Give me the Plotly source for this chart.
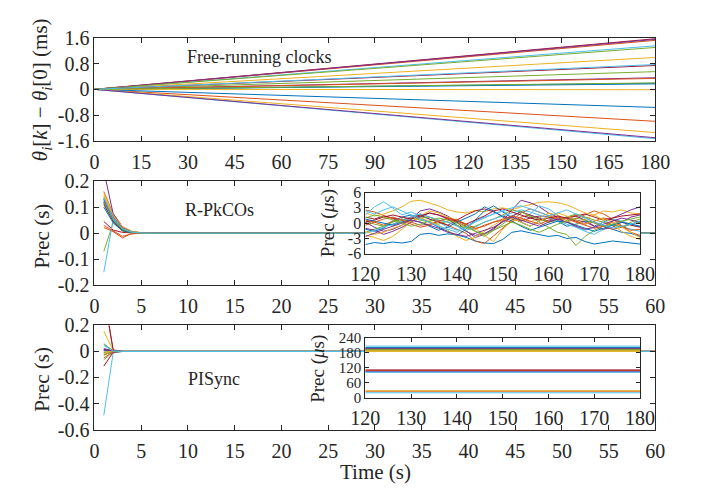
import plotly.graph_objects as go

# ---------------- data ----------------
# MATLAB default colour order, cycled over the 20 nodes
palette = ["#0072BD", "#D95319", "#EDB120", "#7E2F8E", "#77AC30", "#4DBEEE", "#A2142F"]
n_nodes = 20

# Free-running clocks: offset theta_i[k] - theta_i[0] (ms) at t = 0 and t = 180 s
free_t = [0, 180]
free_end_ms = [0.19, -0.99, 0.99, 0.36, 0.55, 1.35, 1.57, -0.56, 1.52, -1.34,
               1.55, 1.30, -1.53, 0.74, 0.17, 0.34, -0.01, -1.50, 0.20, 0.77]

# R-PkCOs precision (s), transient t = 1..6 s then settled until 60 s
rpk_t = [1, 2, 3, 4, 5, 6, 60]
rpk_prec = [
    [0.125, 0.055, 0.018, 0.005, 0.001, 0, 0],
    [0.160, 0.075, 0.025, 0.007, 0.002, 0, 0],
    [0.155, 0.070, 0.022, 0.006, 0.002, 0, 0],
    [0.240, 0.075, 0.022, 0.006, 0.001, 0, 0],
    [0.140, 0.060, 0.020, 0.005, 0.001, 0, 0],
    [0.130, 0.058, 0.020, 0.006, 0.001, 0, 0],
    [0.045, 0.012, 0.003, 0.001, 0.000, 0, 0],
    [0.115, 0.050, 0.015, 0.004, 0.001, 0, 0],
    [0.022, 0.006, -0.018, 0.000, 0.000, 0, 0],
    [0.135, 0.065, 0.020, 0.005, 0.001, 0, 0],
    [0.120, 0.048, 0.012, 0.003, 0.000, 0, 0],
    [-0.070, 0.040, 0.008, 0.002, 0.000, 0, 0],
    [-0.150, 0.052, 0.015, 0.004, 0.001, 0, 0],
    [0.110, 0.045, 0.010, 0.002, 0.000, 0, 0],
    [0.100, 0.040, 0.010, 0.002, 0.000, 0, 0],
    [0.030, 0.010, -0.012, -0.003, 0.000, 0, 0],
    [0.145, 0.068, 0.024, 0.006, 0.001, 0, 0],
    [0.130, 0.062, 0.020, 0.004, 0.001, 0, 0],
    [0.118, 0.050, 0.014, 0.003, 0.000, 0, 0],
    [0.135, 0.060, 0.018, 0.004, 0.001, 0, 0],
]

# R-PkCOs steady-state precision (us), sampled every 2 s from 120 to 180 s
rpk_zoom_t = list(range(120, 181, 2))
rpk_zoom_us = [
    [-4.2, -3.8, -4.0, -3.7, -3.9, -3.6, -2.2, -2.0, -2.4, -2.1, -2.3, -2.8, -3.5, -3.9, -4.0, -3.2, -1.8, -1.5, -1.9, -2.2, -2.6, -2.4, -3.0, -2.8, -3.6, -4.1, -3.8, -3.5, -3.7, -3.9, -4.1],
    [2.6, 2.2, 1.5, 0.8, 0.2, 1.0, 1.8, 1.2, 0.4, -0.5, -1.2, -2.0, -3.5, -4.0, -2.5, -1.0, 0.5, 2.0, 2.8, 2.2, 1.5, 0.8, 0.2, 0.9, 1.6, 2.4, 1.8, 0.8, -0.5, -1.8, -2.4],
    [2.0, 1.4, 1.8, 2.4, 3.2, 4.3, 4.5, 4.0, 3.4, 2.6, 2.2, 2.0, 2.5, 2.2, 2.8, 3.0, 2.6, 3.2, 3.6, 4.1, 4.2, 4.0, 3.6, 2.8, 2.0, 1.6, 2.4, 2.2, 2.6, 2.0, 1.8],
    [0.2, -0.8, -1.6, -1.2, -0.4, 0.8, 2.4, 2.8, 2.2, 1.4, 0.2, -1.5, -2.8, -2.2, -1.0, 0.4, 2.6, 4.5, 4.0, 3.2, 2.0, 1.2, 1.0, 1.4, 0.6, -0.6, 0.2, 1.0, 1.8, 2.6, 3.2],
    [-1.8, -1.2, -0.6, -0.2, 0.5, 1.0, 0.6, 0.2, -0.2, 0.4, 0.8, -0.5, -1.6, -2.6, -1.4, -0.2, 1.2, 2.4, 1.2, 0.2, -0.8, -1.8, -2.2, -4.4, -2.6, -1.4, -0.6, -0.2, -0.8, 0.2, 0.8],
    [1.6, 3.2, 4.2, 3.0, 1.6, 2.2, 1.4, 0.8, 0.2, -0.8, -1.4, -0.6, 0.4, 1.2, 1.8, 2.4, 1.2, 0.4, 1.8, 3.4, 2.8, 1.6, 0.4, -0.8, -1.6, -2.2, -1.2, -0.2, -0.6, -1.2, -1.6],
    [1.2, 0.8, 1.4, 1.0, 0.6, 1.2, 1.6, 0.8, 0.2, -0.4, 0.6, 1.6, 2.4, 2.8, 2.2, 1.4, 0.8, 0.4, 1.0, 1.4, 1.2, 0.6, 1.0, 1.4, 1.8, 1.2, 0.6, 1.0, 1.4, 1.6, 1.8],
    [-1.2, -1.6, -1.0, 0.4, 1.2, 1.6, 1.0, 0.2, -0.8, -1.6, -2.4, -1.2, 0.6, 2.4, 3.4, 2.2, 1.0, 0.2, -0.6, 0.4, 1.2, 0.4, -0.6, -0.2, 0.4, 0.2, -0.6, -1.2, -1.8, -2.0, -2.6],
    [0.6, 0.2, -0.4, 0.4, 0.8, 0.2, -0.4, -0.2, 0.4, 0.8, 0.2, -0.6, -1.2, -0.4, 0.2, 0.6, 0.2, 1.2, 1.6, 0.8, 0.2, 0.6, 1.0, 1.6, 1.0, 0.2, -0.6, -1.2, -0.8, -0.2, 0.4],
    [-2.4, -2.8, -3.4, -2.6, -1.2, 0.2, 1.4, 2.4, 2.0, 1.2, 0.6, -0.2, -1.0, -2.4, -3.6, -1.2, 0.4, 0.8, 0.2, 1.0, 2.0, 1.6, 0.4, -0.4, 0.8, 1.6, 0.6, -0.4, -1.6, -2.6, -3.2],
    [-1.0, -1.4, -2.2, -1.6, -0.8, 0.2, 1.2, 2.0, 1.6, 0.8, -0.4, -1.6, -2.4, -2.0, -1.2, 0.4, 1.4, 2.2, 1.6, 1.0, 0.4, 0.8, 1.2, 0.6, 0.2, -0.6, -1.2, -0.8, 0.2, 1.2, 1.6],
    [0.4, -0.2, -0.6, 0.2, 0.8, 0.4, 1.0, 1.2, 0.6, 0.2, -0.4, -1.0, -0.6, 0.2, 0.8, 1.6, 2.6, 2.2, 1.4, 0.8, 0.2, 0.6, 1.2, 1.8, 1.2, 0.6, 0.2, -0.4, -0.8, -0.2, 0.2],
    [-2.0, -1.4, -0.8, -0.2, 0.4, 1.2, 1.8, 1.2, 0.6, 0.2, -0.6, -1.4, -0.8, 0.2, 0.8, 1.4, 2.0, 2.6, 2.2, 1.6, 1.0, 0.4, -0.2, -0.8, -1.4, -0.8, 0.2, 0.8, 0.4, -0.2, -0.6],
    [0.2, 0.6, 1.2, 1.6, 1.2, 0.8, 1.4, 2.0, 1.6, 1.0, 0.4, -0.2, 0.6, 1.4, 2.4, 2.8, 2.2, 1.6, 1.0, 0.6, 1.0, 1.4, 1.0, 0.4, -0.2, 0.4, 1.0, 0.6, 0.2, -0.4, -0.8],
    [0.8, 0.4, 0.0, -0.4, 0.2, 0.6, 0.2, -0.6, -1.4, -0.8, 0.2, 1.0, 1.8, 3.2, 2.4, 1.2, 0.4, -0.6, -1.4, -0.8, -0.2, 0.4, 0.2, -0.4, -1.0, -1.6, -1.0, -0.4, 0.2, -0.2, -0.6],
    [-0.4, 0.2, 0.8, 1.2, 0.6, -0.2, -0.8, -0.4, 0.4, 1.0, 0.6, -0.2, -1.0, -0.6, 0.2, 0.8, 1.4, 1.0, 0.4, -0.2, 0.6, 1.2, 0.8, 0.2, -0.4, -1.0, -0.6, 0.2, -0.6, -1.4, -1.2],
    [-1.6, -2.2, -1.8, -1.0, -0.4, 0.4, 1.0, 0.4, -0.4, -1.4, -2.6, -3.4, -2.8, -1.6, -0.4, 0.6, 1.0, 0.2, -0.6, 0.4, 1.2, 2.0, 1.4, 0.6, -0.2, 0.4, 1.0, 0.2, -0.8, -1.8, -2.8],
    [-2.6, -2.0, -1.2, -0.6, 0.0, 0.6, 0.2, -0.4, -1.0, -1.8, -2.2, -2.6, -2.0, -1.4, -0.8, 0.2, 1.2, 0.6, 0.0, -0.6, 0.2, 0.8, 0.2, -0.6, -1.2, -0.8, -0.2, 0.4, 1.0, 0.6, 0.2],
    [1.0, 1.6, 1.2, 0.6, 0.0, -0.6, -0.2, 0.4, 1.0, 0.6, 0.0, -0.8, -1.6, -2.2, -1.4, -0.6, 0.2, -0.4, -1.2, -1.8, -1.0, -0.2, 0.4, 1.0, 0.6, 0.0, -0.6, -0.2, 0.4, 0.8, 1.2],
    [2.4, 1.8, 2.6, 3.2, 2.4, 1.6, 0.8, 0.2, -0.6, -1.2, -1.8, -0.8, 0.2, 1.0, 1.8, 2.4, 3.0, 3.4, 2.8, 2.2, 1.4, 2.0, 2.6, 1.8, 1.0, 0.2, -0.4, -1.0, -0.6, -0.2, 0.4],
]

# PISync precision (s), transient t = 1..3 s then settled until 60 s
pi_t = [1, 2, 3, 60]
pi_prec = [
    [0.010, 0.004, 0, 0], [0.430, 0.010, 0, 0], [0.155, 0.008, 0, 0], [0.022, 0.005, 0, 0],
    [-0.064, -0.004, 0, 0], [0.060, 0.004, 0, 0], [0.450, 0.012, 0, 0], [-0.010, 0.002, 0, 0],
    [-0.050, -0.003, 0, 0], [-0.015, 0.003, 0, 0], [0.015, 0.006, 0, 0], [0.055, 0.005, 0, 0],
    [-0.490, -0.012, 0, 0], [-0.113, -0.006, 0, 0], [0.005, 0.001, 0, 0], [-0.025, -0.002, 0, 0],
    [-0.005, 0.002, 0, 0], [0.012, 0.004, 0, 0], [-0.030, 0.002, 0, 0], [0.045, 0.003, 0, 0],
]

# PISync steady-state precision (us) between 120 and 180 s
pi_zoom_t = [120, 180]
pi_zoom_us = [104, 27, 186, 107, 192, 207, 199, 196, 110, 29,
              195, 189, 21, 112, 201, 193, 188, 197, 194, 103]

# ---------------- figure ----------------
W, H = 701, 496
FONT = "Liberation Serif, Times New Roman, serif"
INK = "#262626"

def px_x(a, b):
    return [a / W, b / W]

def px_y(top, bottom):
    return [1 - bottom / H, 1 - top / H]

fig = go.Figure()

def add_lines(xs_list, ys_list, xaxis, yaxis):
    for i, (xs, ys) in enumerate(zip(xs_list, ys_list)):
        fig.add_trace(go.Scatter(
            x=xs, y=ys, mode="lines", xaxis=xaxis, yaxis=yaxis,
            line=dict(color=palette[i % len(palette)], width=1),
            showlegend=False, hoverinfo="skip"))

add_lines([free_t] * n_nodes, [[0, v] for v in free_end_ms], "x", "y")
add_lines([rpk_t] * n_nodes, rpk_prec, "x2", "y2")
add_lines([rpk_zoom_t] * n_nodes, rpk_zoom_us, "x3", "y3")
add_lines([pi_t] * n_nodes, pi_prec, "x4", "y4")
add_lines([pi_zoom_t] * n_nodes, [[v, v] for v in pi_zoom_us], "x5", "y5")

def axis(domain, rng, tickvals, anchor, ticktext=None, size=20, ticklen=5, standoff=None):
    d = dict(domain=domain, range=rng, tickvals=tickvals, anchor=anchor,
             showline=True, mirror="ticks", linecolor=INK, linewidth=1,
             ticks="inside", ticklen=ticklen, tickcolor=INK, tickwidth=1,
             showgrid=False, zeroline=False, fixedrange=True,
             tickfont=dict(family=FONT, size=size, color=INK))
    if ticktext is not None:
        d["ticktext"] = ticktext
    if standoff is not None:
        d["ticklabelstandoff"] = standoff
    return d

def fmt(vals):
    return [("%g" % v) for v in vals]

main_x = px_x(83, 669)
inset_x = px_x(366, 653)

top_y = [-1.6, -0.8, 0, 0.8, 1.6]
mid_y = [-0.2, -0.1, 0, 0.1, 0.2]
bot_y = [-0.6, -0.4, -0.2, 0, 0.2]
ins1_y = [-6, -3, 0, 3, 6]
ins2_y = [0, 60, 120, 180, 240]

fig.update_layout(
    width=W, height=H, margin=dict(l=0, r=0, t=0, b=0),
    paper_bgcolor="white", plot_bgcolor="white", showlegend=False,
    xaxis=axis(main_x, [0, 180], list(range(0, 181, 15)), "y", standoff=3),
    yaxis=axis(px_y(28, 136), [-1.6, 1.6], top_y, "x", fmt(top_y)),
    xaxis2=axis(main_x, [0, 60], list(range(0, 61, 5)), "y2", standoff=3),
    yaxis2=axis(px_y(178, 287), [-0.2, 0.2], mid_y, "x2", fmt(mid_y)),
    xaxis3=axis(inset_x, [120, 180], list(range(120, 181, 10)), "y3", ticklen=4, standoff=2),
    yaxis3=axis(px_y(190, 254), [-6, 6], ins1_y, "x3", fmt(ins1_y), size=16, ticklen=4),
    xaxis4=axis(main_x, [0, 60], list(range(0, 61, 5)), "y4", standoff=3),
    yaxis4=axis(px_y(329, 438), [-0.6, 0.2], bot_y, "x4", fmt(bot_y)),
    xaxis5=axis(inset_x, [120, 180], list(range(120, 181, 10)), "y5", ticklen=4, standoff=2),
    yaxis5=axis(px_y(342, 405), [0, 240], ins2_y, "x5", fmt(ins2_y), size=15, ticklen=4),
)

def label(text, x, y, size=21, angle=0):
    fig.add_annotation(text=text, x=x / W, y=1 - y / H, xref="paper", yref="paper",
                       xanchor="center", yanchor="middle", showarrow=False,
                       textangle=angle, font=dict(family=FONT, size=size, color=INK))

label("<i>θ</i><sub><i>i</i></sub>[<i>k</i>] − <i>θ</i><sub><i>i</i></sub>[0] (ms)", 28, 82, angle=-90)
label("Prec (s)", 28, 235, angle=-90)
label("Prec (s)", 28, 385, angle=-90)
label("Prec (<i>μ</i>s)", 327, 222, size=19, angle=-90)
label("Prec (<i>μ</i>s)", 317, 374, size=19, angle=-90)
label("Time (s)", 377, 482)
label("Free-running clocks", 255, 48, size=18)
label("R-PkCOs", 214, 208, size=18)
label("PISync", 208, 385, size=18)

fig.write_html("out.html")
